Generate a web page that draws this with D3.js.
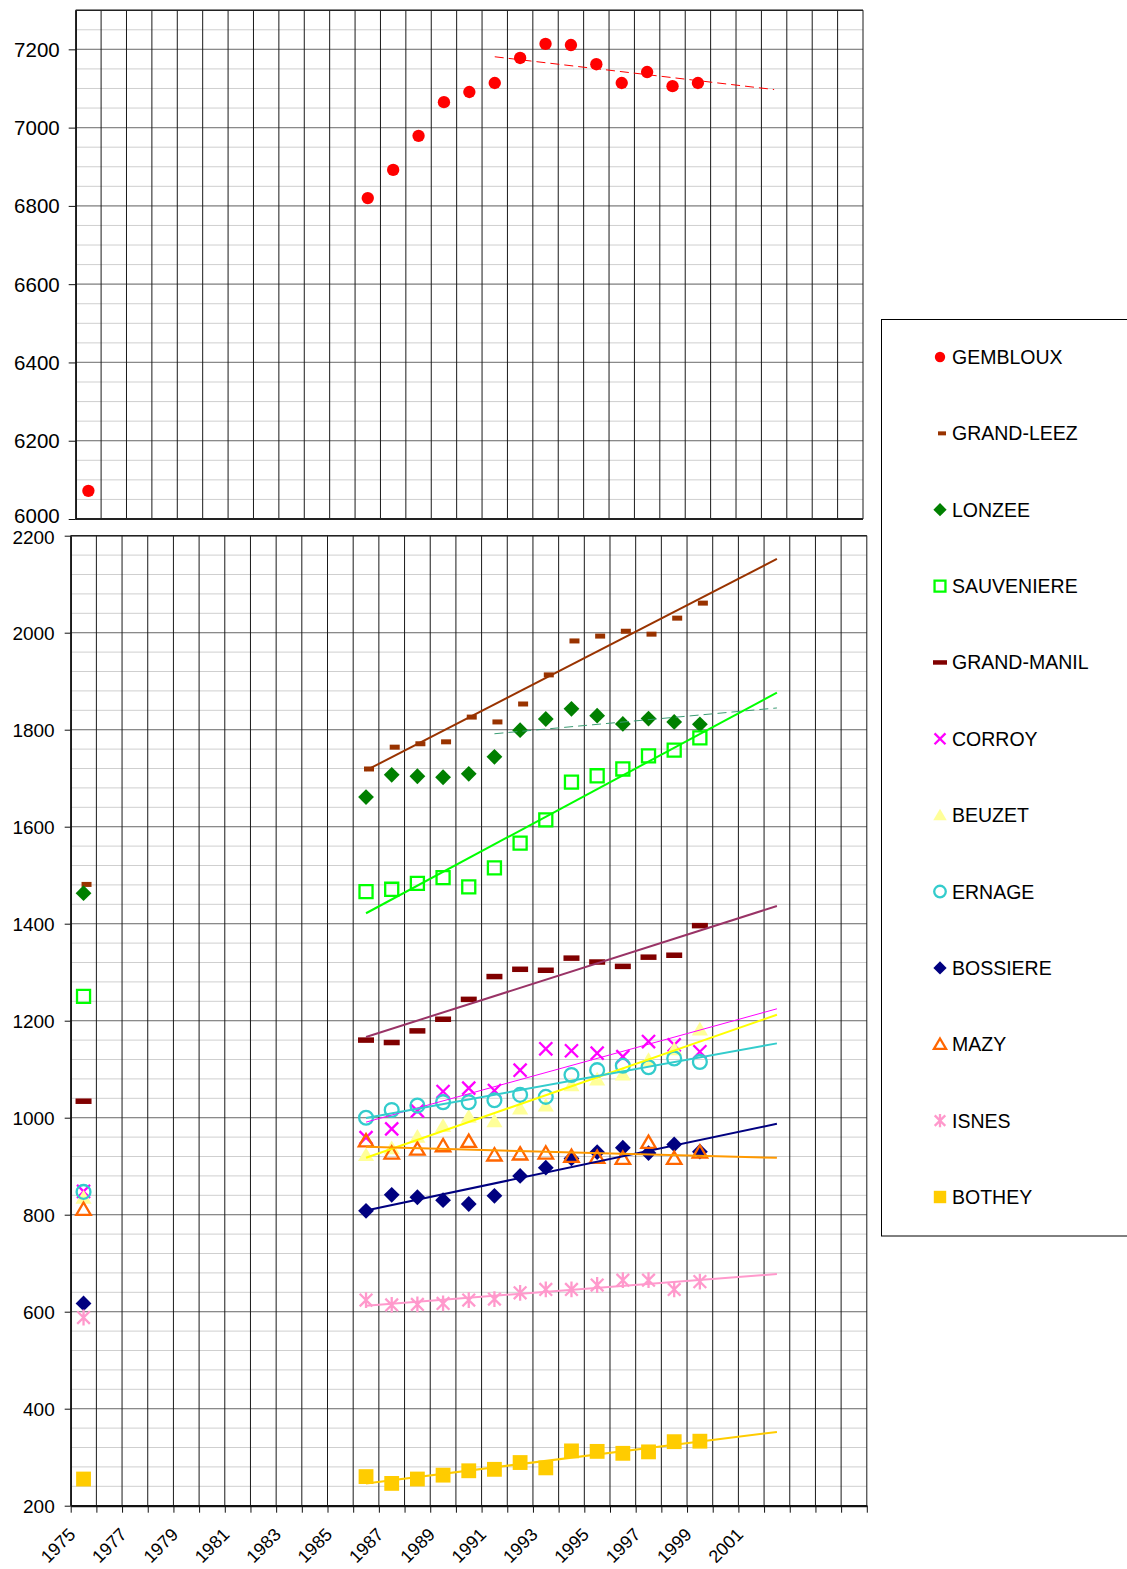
<!DOCTYPE html>
<html>
<head>
<meta charset="utf-8">
<script src="https://cdn.jsdelivr.net/npm/d3@7"></script>
<style>
  body { margin: 0; background: #fff; }
  svg { display: block; font-family: "Liberation Sans", Arial, sans-serif; }
</style>
</head>
<body>
<svg id="chart" width="1127" height="1569"></svg>
<script>
/* Data */
var years = [1975, 1986, 1987, 1988, 1989, 1990, 1991, 1992, 1993, 1994, 1995, 1996, 1997, 1998, 1999];
var labelYears = [1975, 1977, 1979, 1981, 1983, 1985, 1987, 1989, 1991, 1993, 1995, 1997, 1999, 2001];
var topTicks = [6000, 6200, 6400, 6600, 6800, 7000, 7200];
var bottomTicks = [200, 400, 600, 800, 1000, 1200, 1400, 1600, 1800, 2000, 2200];
var names = ['GEMBLOUX', 'GRAND-LEEZ', 'LONZEE', 'SAUVENIERE', 'GRAND-MANIL', 'CORROY',
             'BEUZET', 'ERNAGE', 'BOSSIERE', 'MAZY', 'ISNES', 'BOTHEY'];

var gembloux   = [6072, 6820, 6892, 6979, 7065, 7091, 7114, 7178, 7214, 7211, 7162, 7114, 7142, 7106, 7114];
var grandLeez  = [1481, 1719, 1764, 1771, 1775, 1826, 1816, 1853, 1913, 1983, 1993, 2003, 1997, 2030, 2061];
var lonzee     = [1463, 1661, 1707, 1704, 1702, 1709, 1744, 1799, 1822, 1843, 1829, 1812, 1823, 1816, 1811];
var sauveniere = [1250, 1466, 1471, 1483, 1495, 1476, 1515, 1566, 1614, 1692, 1705, 1719, 1746, 1758, 1783];
var grandManil = [1034, 1160, 1155, 1179, 1203, 1244, 1291, 1306, 1304, 1329, 1321, 1312, 1331, 1335, 1396];
var corroy     = [848, 959, 977, 1014, 1054, 1061, 1056, 1098, 1142, 1138, 1133, 1126, 1157, 1150, 1136];
var beuzet     = [835, 923, 937, 961, 983, 1002, 993, 1019, 1025, 1067, 1079, 1089, 1119, 1141, 1182];
var ernage     = [847, 1000, 1016, 1025, 1032, 1032, 1036, 1047, 1043, 1088, 1098, 1107, 1104, 1122, 1115];
var bossiere   = [617, 808, 841, 836, 830, 822, 839, 880, 897, 916, 929, 938, 927, 945, 930];
var mazy       = [811, 952, 927, 935, 942, 951, 923, 925, 927, 920, 918, 916, 949, 916, 929];
var isnes      = [588, 624, 614, 615, 617, 624, 626, 639, 646, 646, 655, 665, 665, 646, 662];
var bothey     = [255, 260, 246, 255, 263, 272, 275, 289, 278, 313, 312, 308, 311, 332, 333];

/* Marker shapes (symbol types for d3.symbol) */
function dashType(w, h) {
  return { draw: function (c) { c.rect(-w / 2, -h / 2, w, h); } };
}
var diamondType = { draw: function (c, s) { var r = Math.sqrt(s) / 2; c.moveTo(0, -r); c.lineTo(r, 0); c.lineTo(0, r); c.lineTo(-r, 0); c.closePath(); } };
var squareType = { draw: function (c, s) { var r = Math.sqrt(s) / 2; c.rect(-r, -r, 2 * r, 2 * r); } };
var timesType = { draw: function (c, s) { var r = Math.sqrt(s) / 2; c.moveTo(-r, -r); c.lineTo(r, r); c.moveTo(r, -r); c.lineTo(-r, r); } };
var starType = { draw: function (c, s) { var r = Math.sqrt(s) / 2; c.moveTo(-r, -r); c.lineTo(r, r); c.moveTo(r, -r); c.lineTo(-r, r); c.moveTo(0, -r * 1.25); c.lineTo(0, r * 1.25); } };
var triType = { draw: function (c, s) { var r = Math.sqrt(s) / 2; c.moveTo(0, -r * 0.95); c.lineTo(r, r * 0.75); c.lineTo(-r, r * 0.75); c.closePath(); } };

/* Series styles */
var series = [
  { name: names[0], values: gembloux, color: '#FF0000', type: d3.symbolCircle, size: 120, fill: true, top: true,
    trend: { from: 1991, color: '#FF0000', width: 1, dash: '9,5' } },
  { name: names[1], values: grandLeez, color: '#993300', type: dashType(10, 5), size: 1, fill: true, dx: 3,
    trend: { from: 1986, color: '#993300', width: 2 } },
  { name: names[2], values: lonzee, color: '#008000', type: diamondType, size: 250, fill: true,
    trend: { from: 1991, color: '#3C9C74', width: 1, dash: '9,5' } },
  { name: names[3], values: sauveniere, color: '#00FF00', type: squareType, size: 170, fill: false,
    trend: { from: 1986, color: '#00FF00', width: 2 } },
  { name: names[4], values: grandManil, color: '#800000', type: dashType(16, 5.5), size: 1, fill: true,
    trend: { from: 1986, color: '#993366', width: 2 } },
  { name: names[5], values: corroy, color: '#FF00FF', type: timesType, size: 170, fill: false,
    trend: { from: 1986, color: '#FF00FF', width: 1 } },
  { name: names[6], values: beuzet, color: '#FFFF99', type: triType, size: 260, fill: true,
    trend: { from: 1986, color: '#FFFF00', width: 2 } },
  { name: names[7], values: ernage, color: '#33CCCC', type: d3.symbolCircle, size: 150, fill: false,
    trend: { from: 1986, color: '#33CCCC', width: 2 } },
  { name: names[8], values: bossiere, color: '#000080', type: diamondType, size: 250, fill: true,
    trend: { from: 1986, color: '#000080', width: 2 } },
  { name: names[9], values: mazy, color: '#FF6600', type: triType, size: 210, fill: false,
    trend: { from: 1986, color: '#FF9900', width: 2 } },
  { name: names[10], values: isnes, color: '#FF99CC', type: starType, size: 160, fill: false,
    trend: { from: 1986, color: '#FF99CC', width: 2 } },
  { name: names[11], values: bothey, color: '#FFCC00', type: squareType, size: 220, fill: true,
    trend: { from: 1986, color: '#FFCC00', width: 2 } }
];

var svg = d3.select('#chart');
var fmt = d3.format('d');

/* Scales */
var xTop = d3.scaleLinear().domain([1974.5, 2005.5]).range([75.7, 863]);
var yTop = d3.scaleLinear().domain([6000, 7300]).range([519, 10.2]);
var xBot = d3.scaleLinear().domain([1974.5, 2005.5]).range([70.7, 866.8]);
var yBot = d3.scaleLinear().domain([200, 2200]).range([1505.7, 535.7]);

var bounds = d3.range(1974.5, 2006, 1);

function drawGrid(g, x, y, minorStep, majorStep) {
  var d0 = y.domain()[0], d1 = y.domain()[1];
  g.selectAll('line.minor').data(d3.range(d0, d1 + 1, minorStep)).join('line')
    .attr('x1', x.range()[0]).attr('x2', x.range()[1])
    .attr('y1', function (d) { return y(d); }).attr('y2', function (d) { return y(d); })
    .attr('stroke', '#cfcfcf').attr('stroke-width', 1);
  g.selectAll('line.major').data(d3.range(d0, d1 + 1, majorStep)).join('line')
    .attr('x1', x.range()[0]).attr('x2', x.range()[1])
    .attr('y1', function (d) { return y(d); }).attr('y2', function (d) { return y(d); })
    .attr('stroke', '#8a8a8a').attr('stroke-width', 1.2);
  g.selectAll('line.vert').data(bounds).join('line')
    .attr('x1', function (d) { return x(d); }).attr('x2', function (d) { return x(d); })
    .attr('y1', y.range()[1]).attr('y2', y.range()[0])
    .attr('stroke', '#1a1a1a').attr('stroke-width', 1);
  // top border
  g.append('line')
    .attr('x1', x.range()[0]).attr('x2', x.range()[1])
    .attr('y1', y.range()[1]).attr('y2', y.range()[1])
    .attr('stroke', '#222').attr('stroke-width', 1.5);
}

/* Top chart */
var gTop = svg.append('g');
drawGrid(gTop, xTop, yTop, 50, 200);
gTop.append('line')
  .attr('x1', xTop.range()[0]).attr('x2', xTop.range()[1])
  .attr('y1', yTop(6000)).attr('y2', yTop(6000))
  .attr('stroke', '#222').attr('stroke-width', 1.8);

var topAxis = gTop.append('g')
  .attr('transform', 'translate(' + xTop.range()[0] + ',0)')
  .call(d3.axisLeft(yTop).tickValues(topTicks).tickFormat(fmt).tickSize(7).tickSizeOuter(0).tickPadding(9));
topAxis.select('.domain').attr('stroke', '#111').attr('stroke-width', 1.5);
topAxis.selectAll('.tick line').attr('stroke', '#111');
topAxis.selectAll('text').attr('font-size', '20.5px').attr('fill', '#000')
  .attr('font-family', '"Liberation Sans", Arial, sans-serif')
  .attr('dy', function (d) { return d === 6000 ? '0.18em' : '0.34em'; });

/* Bottom chart */
var gBot = svg.append('g');
drawGrid(gBot, xBot, yBot, 40, 200);

var leftAxis = gBot.append('g')
  .attr('transform', 'translate(' + xBot.range()[0] + ',0)')
  .call(d3.axisLeft(yBot).tickValues(bottomTicks).tickFormat(fmt).tickSize(6).tickSizeOuter(0).tickPadding(10));
leftAxis.select('.domain').attr('stroke', '#111').attr('stroke-width', 1.5);
leftAxis.selectAll('.tick line').attr('stroke', '#111');
leftAxis.selectAll('text').attr('font-size', '19px').attr('fill', '#000')
  .attr('font-family', '"Liberation Sans", Arial, sans-serif')
  .attr('dy', function (d) { return d === 2200 ? '0.4em' : '0.34em'; });

var bottomAxis = gBot.append('g')
  .attr('transform', 'translate(0,' + yBot.range()[0] + ')')
  .call(d3.axisBottom(xBot).tickValues(bounds).tickSize(7).tickSizeOuter(0).tickFormat(''));
bottomAxis.select('.domain').attr('stroke', '#111').attr('stroke-width', 2.2);
bottomAxis.selectAll('.tick line').attr('stroke', '#111');

var labY = yBot.range()[0] + 30;
gBot.selectAll('text.xlab').data(labelYears).join('text')
  .attr('class', 'xlab')
  .attr('x', function (d) { return xBot(d) - 7; })
  .attr('y', labY)
  .attr('transform', function (d) { return 'rotate(-45,' + (xBot(d) - 7) + ',' + labY + ')'; })
  .attr('text-anchor', 'end')
  .attr('font-size', '18px')
  .text(function (d) { return d; });

/* Markers */
function styleMarker(sel, s) {
  sel.attr('d', d3.symbol().type(s.type).size(s.size))
    .attr('fill', s.fill ? s.color : 'none')
    .attr('stroke', s.fill ? 'none' : s.color)
    .attr('stroke-width', s.fill ? 0 : 2.3);
}

series.forEach(function (s) {
  var x = s.top ? xTop : xBot;
  var y = s.top ? yTop : yBot;
  var g = (s.top ? gTop : gBot).append('g');
  g.selectAll('path').data(s.values).join('path')
    .attr('transform', function (d, i) { return 'translate(' + (x(years[i]) + (s.dx || 0)) + ',' + y(d) + ')'; })
    .call(styleMarker, s);
});

/* Trend lines: least squares over the selected years, 3 periods forward */
function fit(xs, ys) {
  var mx = d3.mean(xs), my = d3.mean(ys), sxy = 0, sxx = 0;
  xs.forEach(function (v, i) { sxy += (v - mx) * (ys[i] - my); sxx += (v - mx) * (v - mx); });
  var b = sxy / sxx;
  return function (t) { return my + b * (t - mx); };
}

series.forEach(function (s) {
  var x = s.top ? xTop : xBot;
  var y = s.top ? yTop : yBot;
  var xs = [], ys = [];
  years.forEach(function (yr, i) { if (yr >= s.trend.from) { xs.push(yr); ys.push(s.values[i]); } });
  var f = fit(xs, ys);
  var ends = [xs[0], xs[xs.length - 1] + 3];
  (s.top ? gTop : gBot).append('path')
    .datum(ends)
    .attr('d', d3.line().x(function (t) { return x(t); }).y(function (t) { return y(f(t)); }))
    .attr('fill', 'none')
    .attr('stroke', s.trend.color)
    .attr('stroke-width', s.trend.width)
    .attr('stroke-dasharray', s.trend.dash || null);
});

/* Legend */
var legend = svg.append('g');
legend.append('rect')
  .attr('x', 881.5).attr('y', 319.5).attr('width', 260).attr('height', 916.5)
  .attr('fill', '#fff').attr('stroke', '#000').attr('stroke-width', 1);

var legendScale = d3.scalePoint().domain(names).range([357, 1197]);
var legendMarks = {
  'GRAND-LEEZ': dashType(8, 4), 'GRAND-MANIL': dashType(14, 4.5)
};
var li = legend.selectAll('g.item').data(series).join('g')
  .attr('class', 'item')
  .attr('transform', function (d) { return 'translate(0,' + legendScale(d.name) + ')'; });
li.append('path')
  .attr('transform', function (d) { return 'translate(' + (940 + (d.dx ? 2 : 0)) + ',0)'; })
  .each(function (d) {
    var s = Object.assign({}, d, { size: d.size * 0.7 });
    if (legendMarks[d.name]) { s.type = legendMarks[d.name]; s.size = 1; }
    d3.select(this).call(styleMarker, s);
  });
li.append('text')
  .attr('x', 952).attr('y', 0).attr('dy', '0.36em')
  .attr('font-size', '19.5px')
  .text(function (d) { return d.name; });
</script>
</body>
</html>
